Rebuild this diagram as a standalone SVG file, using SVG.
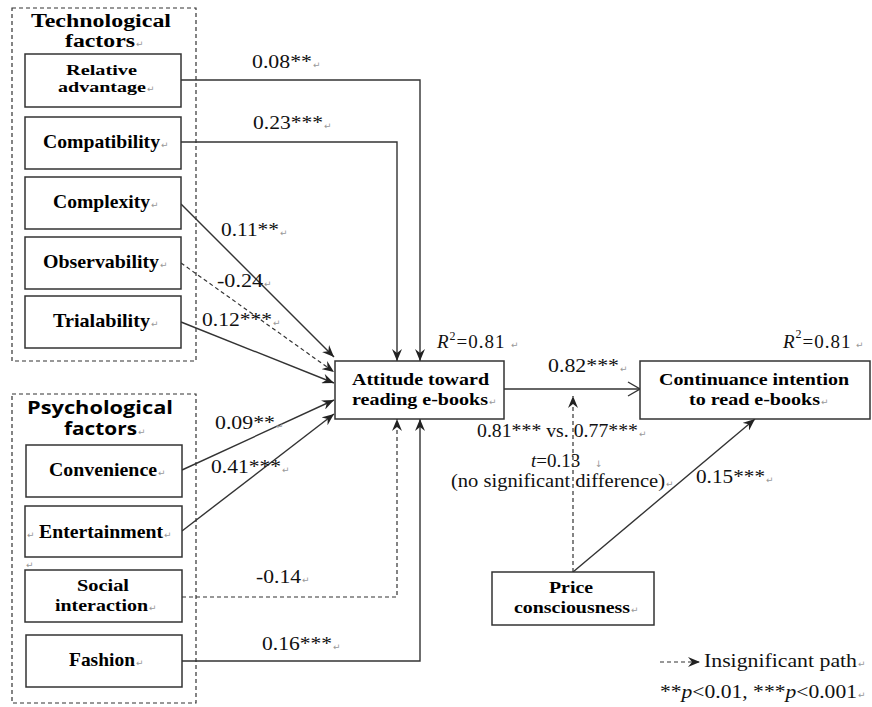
<svg xmlns="http://www.w3.org/2000/svg" width="872" height="707" viewBox="0 0 872 707">
<style>
.grp{fill:none;stroke:#333;stroke-width:1.2;stroke-dasharray:4 3}
.box{fill:#fff;stroke:#333;stroke-width:1.5}
.lbl{font-family:"Liberation Serif","Times New Roman",serif;font-weight:bold;font-size:19px;fill:#000}
.lb2{font-family:"Liberation Serif","Times New Roman",serif;font-weight:bold;font-size:16.5px;fill:#000}
.lb3{font-family:"Liberation Serif","Times New Roman",serif;font-weight:bold;font-size:15px;fill:#000}
.ttl{font-family:"Liberation Serif","Times New Roman",serif;font-weight:bold;font-size:18px;fill:#000}
.ttl2{font-family:"Open Sans","Liberation Sans",sans-serif;font-weight:bold;font-size:17px;fill:#000}
.num{font-family:"Liberation Serif","Times New Roman",serif;font-size:19px;fill:#111}
.pm{font-family:"DejaVu Sans",sans-serif;font-size:9px;fill:#999}
.ln{fill:none;stroke:#333;stroke-width:1.4}
.dl{fill:none;stroke:#333;stroke-width:1.2;stroke-dasharray:4 3}
</style>
<defs>
<marker id="ah" viewBox="0 0 12 10" refX="12" refY="5" markerWidth="12" markerHeight="10" markerUnits="userSpaceOnUse" orient="auto">
<path d="M0,0 L12,5 L0,10 L4,5 z" fill="#222"/>
</marker>
<marker id="oa" viewBox="0 0 14 16" refX="13" refY="8" markerWidth="14" markerHeight="16" markerUnits="userSpaceOnUse" orient="auto">
<path d="M1,1 L13,8 L1,15" fill="none" stroke="#333" stroke-width="1.4"/>
</marker>
</defs>
<rect width="872" height="707" fill="#fff"/>

<g id="connectors">
<polyline class="ln" points="181,80 420,80 420,361" marker-end="url(#ah)"/>
<polyline class="ln" points="181,142 397,142 397,361" marker-end="url(#ah)"/>
<line class="ln" x1="181" y1="204" x2="334" y2="357" marker-end="url(#ah)"/>
<line class="dl" x1="181" y1="263" x2="334" y2="372" marker-end="url(#ah)"/>
<line class="ln" x1="181" y1="322" x2="334" y2="383" marker-end="url(#ah)"/>
<line class="ln" x1="182" y1="470" x2="334" y2="400" marker-end="url(#ah)"/>
<line class="ln" x1="182" y1="531" x2="334" y2="414" marker-end="url(#ah)"/>
<polyline class="dl" points="182,597 397,597 397,419" marker-end="url(#ah)"/>
<polyline class="ln" points="182,661 420,661 420,419" marker-end="url(#ah)"/>
<line class="ln" x1="504" y1="389" x2="640" y2="389" marker-end="url(#oa)"/>
<line class="dl" x1="573" y1="572" x2="573" y2="396" marker-end="url(#ah)"/>
<line class="ln" x1="573" y1="572" x2="755" y2="419" marker-end="url(#ah)"/>
</g>

<g id="technological-factors">
<rect class="grp" x="12" y="8" width="184" height="353"/>
<text class="ttl" x="31" y="27" textLength="140" lengthAdjust="spacingAndGlyphs">Technological</text>
<text class="ttl" x="65" y="47" textLength="70" lengthAdjust="spacingAndGlyphs">factors</text>
<text class="pm" x="136" y="47">↵</text>
</g>

<g id="relative-advantage">
<rect class="box" x="25" y="54" width="156" height="53"/>
<text class="lb3" x="66" y="75" textLength="71" lengthAdjust="spacingAndGlyphs">Relative</text>
<text class="lb3" x="58" y="92" textLength="88" lengthAdjust="spacingAndGlyphs">advantage</text>
<text class="pm" x="147" y="92">↵</text>
</g>
<g id="compatibility">
<rect class="box" x="25" y="117" width="156" height="52"/>
<text class="lbl" x="43" y="148" textLength="117" lengthAdjust="spacingAndGlyphs">Compatibility</text>
<text class="pm" x="161" y="148">↵</text>
</g>
<g id="complexity">
<rect class="box" x="25" y="177" width="156" height="52"/>
<text class="lbl" x="53" y="208" textLength="97" lengthAdjust="spacingAndGlyphs">Complexity</text>
<text class="pm" x="151" y="208">↵</text>
</g>
<g id="observability">
<rect class="box" x="25" y="237" width="156" height="52"/>
<text class="lbl" x="43" y="268" textLength="116" lengthAdjust="spacingAndGlyphs">Observability</text>
<text class="pm" x="160" y="268">↵</text>
</g>
<g id="trialability">
<rect class="box" x="25" y="296" width="156" height="52"/>
<text class="lbl" x="53" y="327" textLength="97" lengthAdjust="spacingAndGlyphs">Trialability</text>
<text class="pm" x="151" y="327">↵</text>
</g>

<g id="psychological-factors">
<rect class="grp" x="12" y="394" width="184" height="309"/>
<text class="ttl2" x="27" y="414" textLength="146" lengthAdjust="spacingAndGlyphs">Psychological</text>
<text class="ttl2" x="64" y="435" textLength="73" lengthAdjust="spacingAndGlyphs">factors</text>
<text class="pm" x="138" y="435">↵</text>
</g>
<g id="convenience">
<rect class="box" x="26" y="445" width="156" height="52"/>
<text class="lbl" x="49" y="476" textLength="108" lengthAdjust="spacingAndGlyphs">Convenience</text>
<text class="pm" x="158" y="476">↵</text>
</g>
<g id="entertainment">
<rect class="box" x="25" y="506" width="157" height="51"/>
<text class="pm" x="27" y="538">↵</text>
<text class="lbl" x="39" y="538" textLength="124" lengthAdjust="spacingAndGlyphs">Entertainment</text>
<text class="pm" x="164" y="538">↵</text>
</g>
<text class="pm" x="26" y="568">↵</text>
<g id="social-interaction">
<rect class="box" x="25" y="570" width="157" height="52"/>
<text class="lb2" x="77" y="591" textLength="52" lengthAdjust="spacingAndGlyphs">Social</text>
<text class="lb2" x="55" y="611" textLength="93" lengthAdjust="spacingAndGlyphs">interaction</text>
<text class="pm" x="149" y="611">↵</text>
</g>
<g id="fashion">
<rect class="box" x="26" y="635" width="156" height="52"/>
<text class="lbl" x="69" y="666" textLength="66" lengthAdjust="spacingAndGlyphs">Fashion</text>
<text class="pm" x="136" y="666">↵</text>
</g>

<g id="attitude">
<rect class="box" x="335" y="361" width="169" height="58"/>
<text class="lb2" x="352" y="385" textLength="137" lengthAdjust="spacingAndGlyphs">Attitude toward</text>
<text class="lb2" x="352" y="405" textLength="136" lengthAdjust="spacingAndGlyphs">reading e-books</text>
<text class="pm" x="489" y="405">↵</text>
</g>
<g id="continuance">
<rect class="box" x="640" y="361" width="230" height="58"/>
<text class="lb2" x="659" y="385" textLength="190" lengthAdjust="spacingAndGlyphs">Continuance intention</text>
<text class="lb2" x="689" y="405" textLength="131" lengthAdjust="spacingAndGlyphs">to read e-books</text>
<text class="pm" x="821" y="405">↵</text>
</g>
<g id="price-consciousness">
<rect class="box" x="492" y="572" width="162" height="53"/>
<text class="lb2" x="549" y="593" textLength="44" lengthAdjust="spacingAndGlyphs">Price</text>
<text class="lb2" x="514" y="613" textLength="116" lengthAdjust="spacingAndGlyphs">consciousness</text>
<text class="pm" x="631" y="613">↵</text>
</g>

<g id="labels">
<text class="num" x="252" y="68" textLength="60" lengthAdjust="spacingAndGlyphs">0.08**</text><text class="pm" x="313" y="68">↵</text>
<text class="num" x="253" y="129" textLength="70" lengthAdjust="spacingAndGlyphs">0.23***</text><text class="pm" x="324" y="129">↵</text>
<text class="num" x="221" y="236" textLength="58" lengthAdjust="spacingAndGlyphs">0.11**</text><text class="pm" x="280" y="236">↵</text>
<text class="num" x="217" y="287" textLength="46" lengthAdjust="spacingAndGlyphs">-0.24</text><text class="pm" x="264" y="287">↵</text>
<text class="num" x="202" y="326" textLength="70" lengthAdjust="spacingAndGlyphs">0.12***</text><text class="pm" x="273" y="326">↵</text>
<text class="num" x="215" y="429" textLength="60" lengthAdjust="spacingAndGlyphs">0.09**</text><text class="pm" x="276" y="429">↵</text>
<text class="num" x="211" y="473" textLength="70" lengthAdjust="spacingAndGlyphs">0.41***</text><text class="pm" x="282" y="473">↵</text>
<text class="num" x="256" y="583" textLength="45" lengthAdjust="spacingAndGlyphs">-0.14</text><text class="pm" x="302" y="583">↵</text>
<text class="num" x="262" y="650" textLength="70" lengthAdjust="spacingAndGlyphs">0.16***</text><text class="pm" x="333" y="650">↵</text>
<text class="num" x="437" y="348" letter-spacing="1"><tspan font-style="italic">R</tspan><tspan font-size="12" dy="-8">2</tspan><tspan dy="8">=0.81</tspan></text><text class="pm" x="511" y="348">↵</text>
<text class="num" x="783" y="348" letter-spacing="1"><tspan font-style="italic">R</tspan><tspan font-size="12" dy="-10">2</tspan><tspan dy="10">=0.81</tspan></text><text class="pm" x="856" y="348">↵</text>
<text class="num" x="548" y="372" textLength="71" lengthAdjust="spacingAndGlyphs">0.82***</text><text class="pm" x="620" y="372">↵</text>
<text class="num" x="477" y="437" textLength="161" lengthAdjust="spacingAndGlyphs">0.81*** vs. 0.77***</text><text class="pm" x="639" y="437">↵</text>
<text class="num" x="531" y="467"><tspan font-style="italic">t</tspan>=0.13</text><text class="pm" x="595" y="467">↓</text>
<text class="num" x="451" y="487" textLength="214" lengthAdjust="spacingAndGlyphs">(no significant difference)</text><text class="pm" x="666" y="487">↵</text>
<text class="num" x="696" y="483" textLength="69" lengthAdjust="spacingAndGlyphs">0.15***</text><text class="pm" x="766" y="483">↵</text>
</g>

<g id="legend">
<line class="dl" x1="660" y1="662" x2="700" y2="662" stroke-dasharray="3 2.5" marker-end="url(#ah)"/>
<text class="num" x="704" y="667" textLength="153" lengthAdjust="spacingAndGlyphs">Insignificant path</text><text class="pm" x="858" y="667">↵</text>
<text class="num" x="660" y="698" textLength="197" lengthAdjust="spacingAndGlyphs">**<tspan font-style="italic">p</tspan>&lt;0.01, ***<tspan font-style="italic">p</tspan>&lt;0.001</text><text class="pm" x="858" y="698">↵</text>
</g>
</svg>
